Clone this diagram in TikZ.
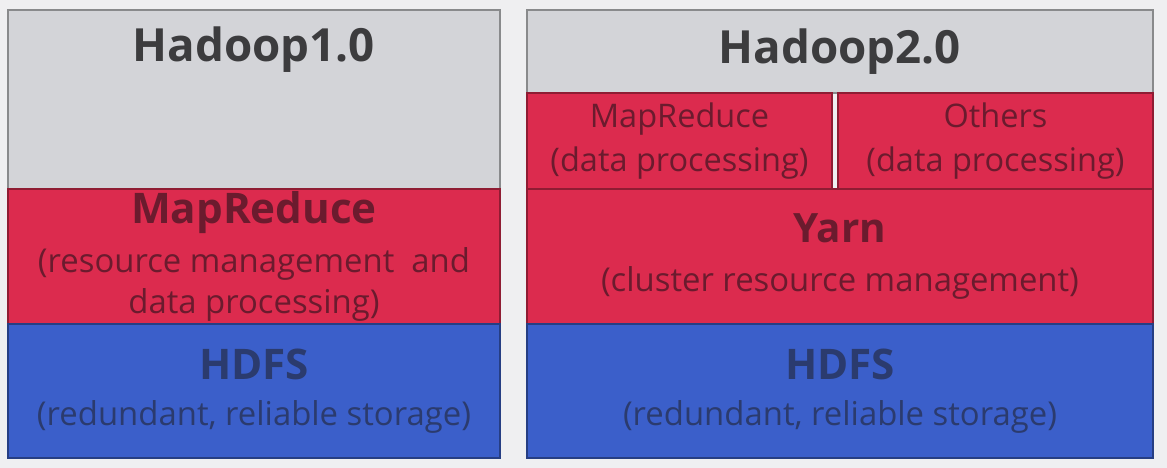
\documentclass[tikz,border=0pt]{standalone}
\usepackage{fontspec}
\setmainfont{Open Sans}
\usetikzlibrary{positioning}

\definecolor{bggrey}{HTML}{EFEFF1}
\definecolor{layergrey}{HTML}{D3D4D8}
\definecolor{layerred}{HTML}{DC2B4E}
\definecolor{layerblue}{HTML}{3B5FCA}
\definecolor{txtgrey}{HTML}{3C3C3E}
\definecolor{txtred}{HTML}{6B1B2E}
\definecolor{txtblue}{HTML}{2B3B6E}

\begin{document}
\begin{tikzpicture}[node distance=0pt,
    layer/.style={draw=#1!65!black, fill=#1, line width=0.9pt,
                  inner sep=0pt, outer sep=0pt, align=center},
    greylayer/.style={layer=layergrey, text=txtgrey},
    redlayer/.style={layer=layerred, text=txtred},
    bluelayer/.style={layer=layerblue, text=txtblue},
    title/.style={text=txtgrey, font=\bfseries\fontsize{26}{31}\selectfont},
    big/.style={font=\fontsize{18.7}{23.5}\selectfont},
    small/.style={font=\fontsize{18.5}{25}\selectfont}]
    % Background
    \fill[bggrey] (0,0) rectangle (23.34,-9.36);

    % Hadoop 1.0 stack
    \node (h1) [greylayer, anchor=north west, minimum width=9.84cm, minimum height=3.58cm] at (0.16,-0.2) {};
    \node (t1) [title] at ([yshift=-0.8cm]h1.north) {Hadoop1.0};
    \node (mr1) [redlayer, big, below=of h1, minimum width=9.84cm, minimum height=2.7cm]
        {{\bfseries\fontsize{24}{28}\selectfont MapReduce}\\[4pt](resource management\ \ and\\data processing)};
    \node (hd1) [bluelayer, big, below=of mr1, minimum width=9.84cm, minimum height=2.68cm]
        {{\bfseries\fontsize{24}{28}\selectfont HDFS}\\[3pt](redundant, reliable storage)};

    % Hadoop 2.0 stack
    \node (h2) [greylayer, title, anchor=north west, minimum width=12.52cm, minimum height=1.66cm] at (10.54,-0.2) {Hadoop2.0};
    \node (mr2) [redlayer, small, below right=of h2.south west, minimum width=6.1cm, minimum height=1.92cm]
        {MapReduce\\(data processing)};
    \node (oth) [redlayer, small, right=0.12cm of mr2, minimum width=6.3cm, minimum height=1.92cm]
        {Others\\(data processing)};
    \node (yarn) [redlayer, big, below right=of mr2.south west, minimum width=12.52cm, minimum height=2.7cm]
        {{\bfseries\fontsize{23}{28}\selectfont Yarn}\\[4pt](cluster resource management)};
    \node (hd2) [bluelayer, big, below=of yarn, minimum width=12.52cm, minimum height=2.68cm]
        {{\bfseries\fontsize{24}{28}\selectfont HDFS}\\[3pt](redundant, reliable storage)};
\end{tikzpicture}
\end{document}
